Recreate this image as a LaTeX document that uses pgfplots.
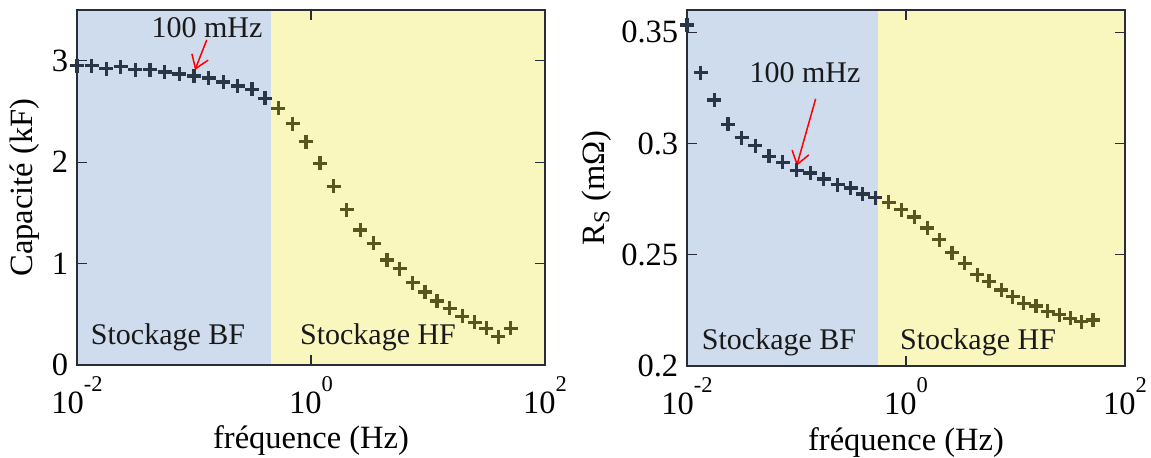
\documentclass[border=0pt]{standalone}
\usepackage{pgfplots}
\pgfplotsset{compat=1.18}
\usepackage{pgfplotstable}
\usetikzlibrary{arrows.meta}
\usepackage{fontspec}
\setmainfont{Liberation Serif}
\definecolor{bgblue}{RGB}{206,220,237}
\definecolor{bgyellow}{RGB}{250,247,190}
\definecolor{mkblue}{RGB}{42,54,70}
\definecolor{mkolive}{RGB}{90,84,30}
\definecolor{axgray}{RGB}{40,45,55}

\pgfplotstableread{
f C
0.01 2.95
0.01334 2.95
0.01778 2.92
0.02371 2.94
0.03162 2.91
0.04217 2.91
0.05623 2.89
0.07499 2.87
0.1 2.85
0.1334 2.83
0.1778 2.79
0.2371 2.75
0.3126 2.72
0.4036 2.63
0.5248 2.53
0.6966 2.38
0.9078 2.20
1.194 1.99
1.567 1.76
2.018 1.53
2.636 1.33
3.428 1.20
4.467 1.035
5.715 0.95
7.413 0.81
9.419 0.72
11.91 0.63
15.35 0.56
19.68 0.48
25.12 0.42
31.62 0.36
39.81 0.28
50.93 0.36
}\capdata

\pgfplotstableread{
f R
0.01 0.3533
0.01334 0.3318
0.01778 0.3195
0.02371 0.3086
0.03162 0.3026
0.04217 0.2991
0.05623 0.2943
0.07499 0.2916
0.1 0.2880
0.1334 0.2868
0.1778 0.2841
0.2371 0.2815
0.3126 0.2800
0.4036 0.2773
0.5248 0.2757
0.6966 0.2736
0.9078 0.2703
1.194 0.2670
1.567 0.2620
2.018 0.2568
2.636 0.2510
3.428 0.2462
4.467 0.2410
5.715 0.2380
7.413 0.2342
9.419 0.2312
11.91 0.2282
15.35 0.2270
19.68 0.2245
25.12 0.2230
31.62 0.2215
39.81 0.2200
50.93 0.2207
}\rsdata

\newcommand{\tenexp}[1]{10\raisebox{0.66em}{\fontsize{9}{9}\selectfont #1}}

\pgfplotsset{
 every axis/.append style={
  tick label style={font=\fontsize{13}{15}\selectfont},
  label style={font=\fontsize{13}{15}\selectfont},
  axis line style={color=axgray, line width=0.6pt},
  every tick/.style={axgray, line width=0.5pt},
  major tick length=4pt,
  xticklabel style={anchor=base, yshift=-19.2pt},
  xlabel style={at={(axis description cs:0.5,-0.214)}, anchor=center},
 },
}

\begin{document}
\begin{tikzpicture}
\useasboundingbox (0,0) rectangle (460.4pt,182.8pt);
% Left panel
\begin{axis}[scale only axis, anchor=south west,
  at={(30.8pt,36.8pt)}, width=187.2pt, height=142pt,
  xmode=log, xmin=0.01, xmax=100,
  xtick={0.01,1,100},
  xticklabels={\tenexp{-2},\tenexp{0},\tenexp{2}},
  xminorticks=false, yminorticks=false,
  tick align=inside, axis on top, clip=false,
  /pgf/number format/assume math mode=true,
  xlabel={fréquence (Hz)},
  ymin=0, ymax=3.5, ytick={0,1,2,3},
  ylabel={Capacité (kF)}, ylabel shift=-2pt]
\fill[bgblue] (axis cs:0.01,0) rectangle (axis cs:0.455,3.5);
\fill[bgyellow] (axis cs:0.455,0) rectangle (axis cs:100,3.5);
\addplot[only marks, mark=+, mark size=2.8pt, mkblue, mark options={line width=1.3pt},
  skip coords between index={14}{40}] table[x=f,y=C] {\capdata};
\addplot[only marks, mark=+, mark size=2.8pt, mkolive, mark options={line width=1.3pt},
  skip coords between index={0}{14}] table[x=f,y=C] {\capdata};
\node[font=\fontsize{12}{14}\selectfont, text=black!90] at (axis cs:0.06,0.276) {Stockage BF};
\node[font=\fontsize{12}{14}\selectfont, text=black!90] at (axis cs:3.74,0.276) {Stockage HF};
\node[font=\fontsize{12}{14}\selectfont, text=black!90] at (axis cs:0.129,3.33) {100 mHz};
\draw[red, line width=0.6pt, -{Straight Barb[length=5pt,width=7pt]}] (axis cs:0.1285,3.205) -- (axis cs:0.102,2.91);
\end{axis}
% Right panel
\begin{axis}[scale only axis, anchor=south west,
  at={(274.8pt,36.4pt)}, width=175.2pt, height=142.4pt,
  xmode=log, xmin=0.01, xmax=100,
  xtick={0.01,1,100},
  xticklabels={\tenexp{-2},\tenexp{0},\tenexp{2}},
  xminorticks=false, yminorticks=false,
  tick align=inside, axis on top, clip=false,
  /pgf/number format/assume math mode=true,
  xlabel={fréquence (Hz)},
  ymin=0.2, ymax=0.36, ytick={0.2,0.25,0.3,0.35},
  ylabel={R\textsubscript{S} (mΩ)}, ylabel shift=-3pt]
\fill[bgblue] (axis cs:0.01,0.2) rectangle (axis cs:0.55,0.36);
\fill[bgyellow] (axis cs:0.55,0.2) rectangle (axis cs:100,0.36);
\addplot[only marks, mark=+, mark size=2.8pt, mkblue, mark options={line width=1.3pt},
  skip coords between index={15}{40}] table[x=f,y=R] {\rsdata};
\addplot[only marks, mark=+, mark size=2.8pt, mkolive, mark options={line width=1.3pt},
  skip coords between index={0}{15}] table[x=f,y=R] {\rsdata};
\node[font=\fontsize{12}{14}\selectfont, text=black!90] at (axis cs:0.0692,0.2108) {Stockage BF};
\node[font=\fontsize{12}{14}\selectfont, text=black!90] at (axis cs:4.55,0.2108) {Stockage HF};
\node[font=\fontsize{12}{14}\selectfont, text=black!90] at (axis cs:0.1197,0.332) {100 mHz};
\draw[red, line width=0.6pt, -{Straight Barb[length=5pt,width=7pt]}] (axis cs:0.1496,0.3201) -- (axis cs:0.1005,0.290);
\end{axis}
\end{tikzpicture}
\end{document}
